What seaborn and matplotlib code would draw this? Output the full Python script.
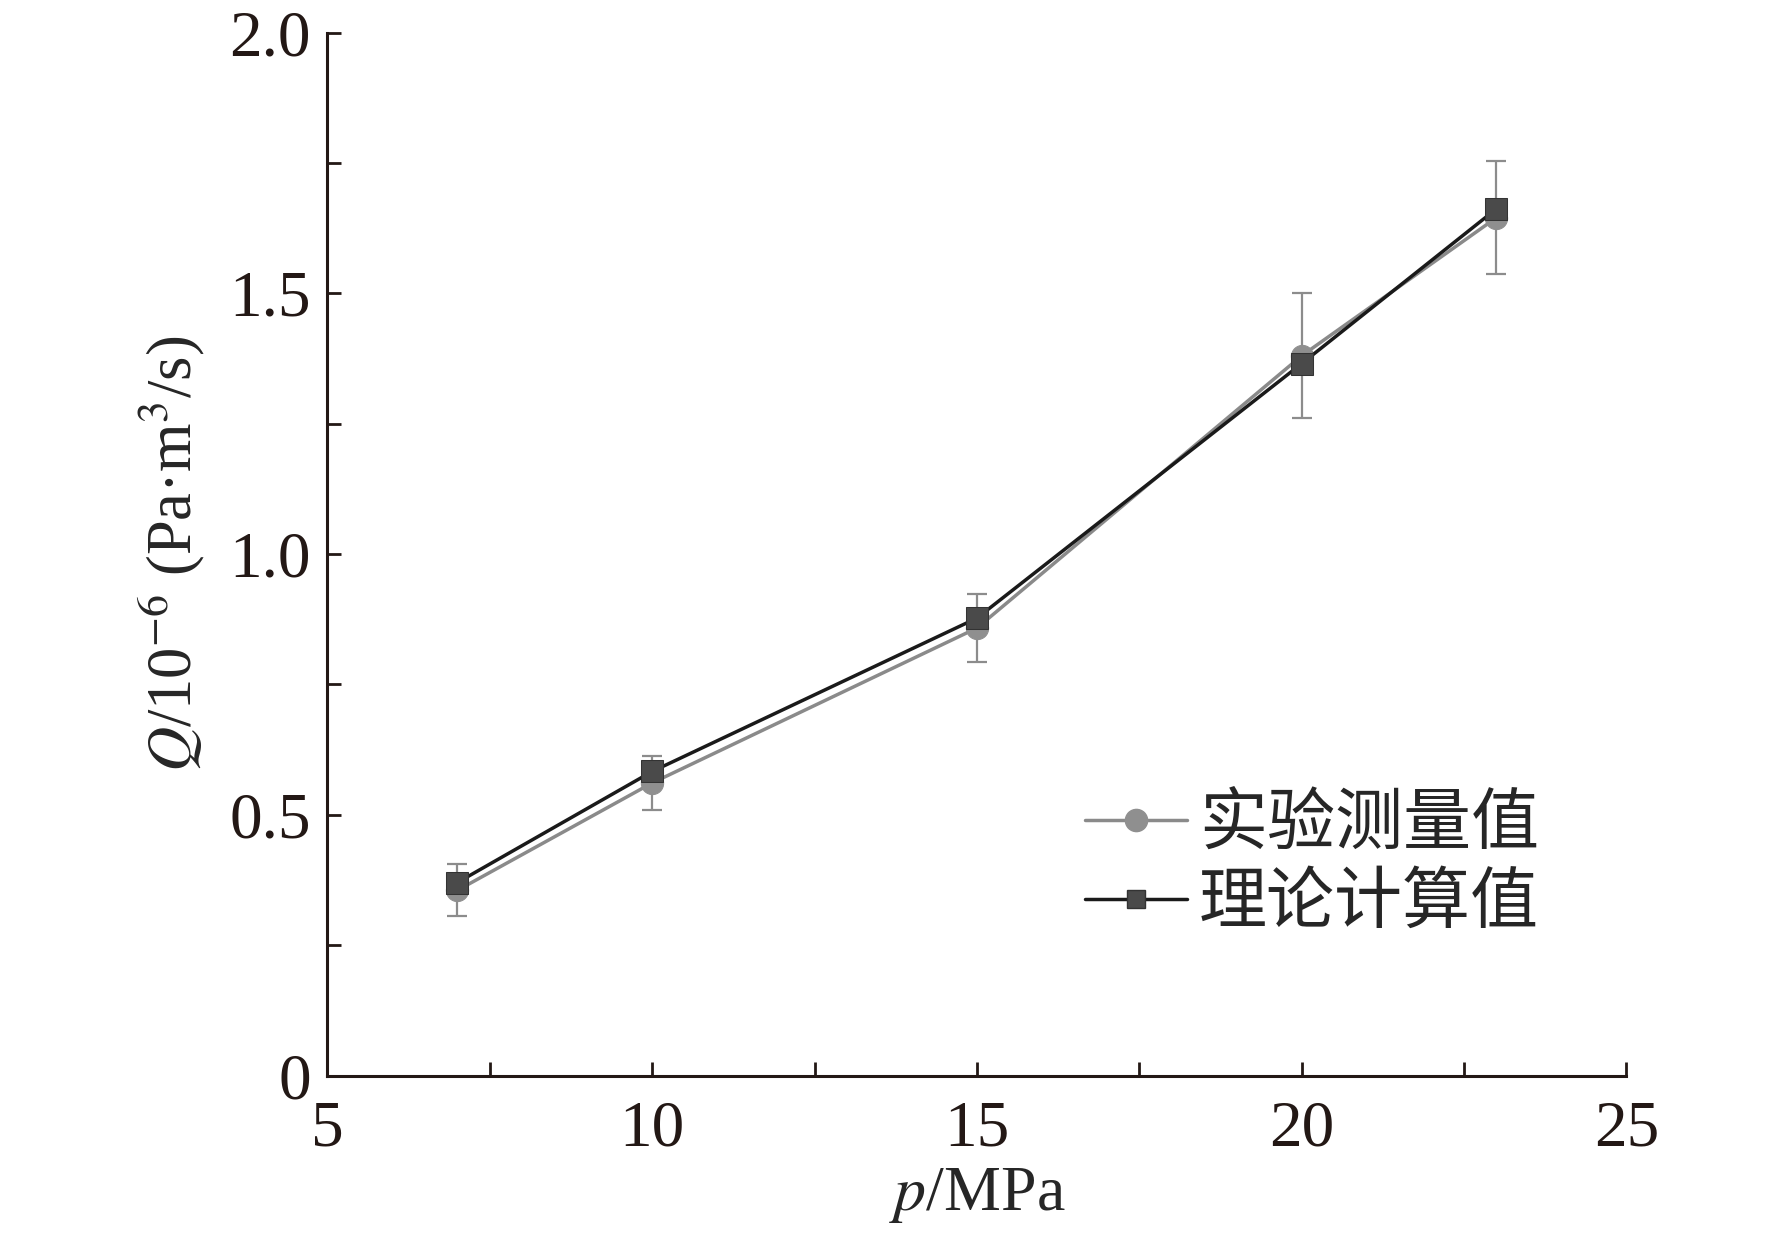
import numpy as np
import pandas as pd
import matplotlib
matplotlib.use('Agg')
import matplotlib.pyplot as plt
import seaborn as sns
from matplotlib.ticker import MultipleLocator
from matplotlib.lines import Line2D

pressure = [7, 10, 15, 20, 23]
measured = [0.355, 0.561, 0.858, 1.38, 1.645]
measured_err = [0.05, 0.052, 0.065, 0.12, 0.108]
theory = [0.37, 0.583, 0.877, 1.365, 1.662]
labels = ['实验测量值', '理论计算值']

sns.set_theme(style='ticks')
plt.rcParams['font.family'] = ['Liberation Serif', 'Noto Sans CJK SC']
plt.rcParams['mathtext.fontset'] = 'stix'

df = pd.DataFrame({'p': pressure * 2,
                   'Q': measured + theory,
                   'kind': [labels[0]] * 5 + [labels[1]] * 5})

fig = plt.figure(figsize=(17.72, 12.5), dpi=100)
ax = fig.add_axes([0.1848, 0.1396, 0.733, 0.8344])

ax.errorbar(pressure, measured, yerr=measured_err, fmt='none',
            ecolor='#8c8c8c', elinewidth=1.6, capsize=7, capthick=1.6, zorder=1)

sns.lineplot(data=df, x='p', y='Q', hue='kind', style='kind',
             palette=['#8a8a8a', '#1a1a1a'], markers=['o', 's'], dashes=False,
             linewidth=2.5, markersize=16, ax=ax, legend=False, zorder=3)
# marker colours
ax.lines[-2].set_markerfacecolor('#8f8f8f')
ax.lines[-2].set_markeredgecolor('#8f8f8f')
ax.lines[-1].set_markerfacecolor('#4a4a4a')
ax.lines[-1].set_markeredgecolor('#333333')

ax.set_xlim(5, 25)
ax.set_ylim(0, 2.0)
ax.xaxis.set_major_locator(MultipleLocator(5))
ax.xaxis.set_minor_locator(MultipleLocator(2.5))
ax.yaxis.set_minor_locator(MultipleLocator(0.25))
ax.set_yticks([0, 0.5, 1.0, 1.5, 2.0])
ax.set_yticklabels(['0', '0.5', '1.0', '1.5', '2.0'])
ax.tick_params(which='both', direction='in', length=10, width=2, colors='#231815',
               labelsize=47, pad=12)
ax.tick_params(axis='x', pad=18)
for s in ['top', 'right']:
    ax.spines[s].set_visible(False)
for s in ['left', 'bottom']:
    ax.spines[s].set_linewidth(2.2)
    ax.spines[s].set_color('#231815')

ax.set_xlabel(r'$p$/MPa', fontsize=46, labelpad=4)
ax.set_ylabel(r'$Q$/10$^{-6}$ (Pa·m$^3$/s)', fontsize=45, labelpad=16)

handles = [Line2D([], [], color='#8a8a8a', lw=2.5, marker='o', markersize=16,
                  markerfacecolor='#8f8f8f', markeredgecolor='#8f8f8f'),
           Line2D([], [], color='#1a1a1a', lw=2.5, marker='s', markersize=13,
                  markerfacecolor='#4a4a4a', markeredgecolor='#333333')]
ax.legend(handles, labels, loc='lower right', bbox_to_anchor=(0.98, 0.072),
          frameon=False, handlelength=1.5, handletextpad=0.18, labelspacing=0.14,
          prop={'family': ['Noto Sans CJK SC'], 'size': 49})

fig.savefig('out.png', dpi=100)
